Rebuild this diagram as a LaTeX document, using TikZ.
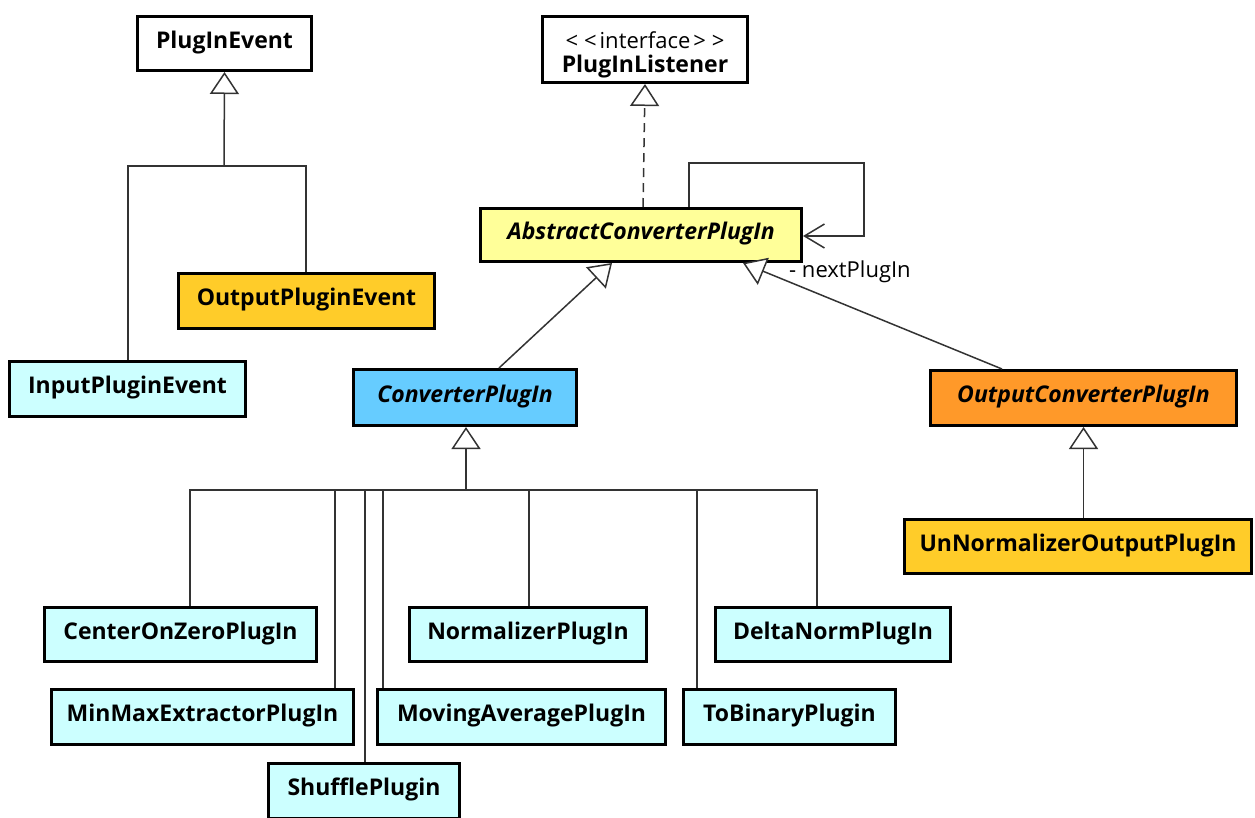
\documentclass[tikz,border=0pt]{standalone}
\usepackage{fontspec}
\setmainfont{Open Sans}
\usetikzlibrary{arrows.meta}
\definecolor{cyanbox}{RGB}{204,255,255}
\definecolor{goldbox}{RGB}{255,204,41}
\definecolor{bluebox}{RGB}{102,204,255}
\definecolor{yelbox}{RGB}{255,255,153}
\definecolor{orbox}{RGB}{255,153,41}
\definecolor{linec}{RGB}{51,51,51}
\begin{document}
\begin{tikzpicture}[x=1pt,y=-1pt,
  cls/.style={draw=black, line width=3pt, inner sep=0pt, text height=16pt, text depth=7pt,
    font=\fontsize{23}{25}\selectfont\bfseries},
  abscls/.style={cls, font=\fontsize{23}{25}\selectfont\bfseries\itshape},
  conn/.style={draw=linec, line width=1.5pt},
  gentip/.style={-{Triangle[open, length=22pt, width=29pt, fill=white]}},
  gen/.style={conn, gentip},
  lbl/.style={inner sep=0pt, font=\fontsize{22}{25}\selectfont}]
\useasboundingbox (0,0) rectangle (1255,817);
\fill[white] (0,0) rectangle (1255,817);
\clip (0,0) rectangle (1255,817);

% event hierarchy
\node[cls, fill=white, minimum width=174pt, minimum height=54pt] (ev) at (224.5,43.5) {PlugInEvent};
\node[cls, fill=goldbox, minimum width=256pt, minimum height=55pt] (oev) at (306.5,301) {OutputPluginEvent};
\node[cls, fill=cyanbox, minimum width=236pt, minimum height=55pt] (iev) at (127.5,389) {InputPluginEvent};
\coordinate (evhub) at (224,166);
\draw[gen] (evhub) -- (ev.south);
\draw[conn] (iev.north -| 128,0) |- (evhub);
\draw[conn] (oev.north -| 306,0) |- (evhub);

% listener and abstract converter
\node[cls, fill=white, minimum width=205pt, minimum height=66pt, align=center, text height=50pt, text depth=5pt] (lis) at (645,49.5)
  {{\fontsize{22}{25}\selectfont\mdseries <\hspace{6pt}<\hspace{3pt}interface\hspace{3pt}>\hspace{6pt}>}\\[-1pt]PlugInListener};
\node[abscls, fill=yelbox, minimum width=321pt, minimum height=53pt] (acp) at (641,235) {AbstractConverterPlugIn};
\draw[conn, dash pattern=on 9pt off 6pt, gentip] (acp.north -| 643,0) -- (lis.south);
\draw[conn, -{Straight Barb[length=20pt, width=24pt]}] (acp.north -| 689,0) |- (864,163) |- (acp.east |- 0,236);
\node[lbl, anchor=west] (nextlbl) at (789,272) {- nextPlugIn};

% converter branches
\node[abscls, fill=bluebox, minimum width=223pt, minimum height=56pt] (cp) at (465,397.5) {ConverterPlugIn};
\node[abscls, fill=orbox, minimum width=306pt, minimum height=55pt] (ocp) at (1083.5,398) {OutputConverterPlugIn};
\node[cls, fill=goldbox, minimum width=347pt, minimum height=54pt] (unp) at (1078,546.5) {UnNormalizerOutputPlugIn};
\draw[gen] (cp.north -| 499,0) -- (acp.south -| 612,0);
\draw[gen] (ocp.north -| 1002,0) -- (acp.south -| 743,0);
\draw[gen] (unp.north -| ocp.south) -- (ocp.south);

% concrete converters
\node[cls, fill=cyanbox, minimum width=272pt, minimum height=54pt] (coz) at (180.5,634.5) {CenterOnZeroPlugIn};
\node[cls, fill=cyanbox, minimum width=237pt, minimum height=54pt] (nor) at (528,634.5) {NormalizerPlugIn};
\node[cls, fill=cyanbox, minimum width=235pt, minimum height=54pt] (dnp) at (833,634.5) {DeltaNormPlugIn};
\node[cls, fill=cyanbox, minimum width=302pt, minimum height=55pt] (mmx) at (202.5,717) {MinMaxExtractorPlugIn};
\node[cls, fill=cyanbox, minimum width=288pt, minimum height=55pt] (mav) at (521.5,717) {MovingAveragePlugIn};
\node[cls, fill=cyanbox, minimum width=212pt, minimum height=55pt] (tbp) at (789.5,717) {ToBinaryPlugin};
\node[cls, fill=cyanbox, minimum width=191pt, minimum height=55pt] (shp) at (364,791) {ShufflePlugin};
\coordinate (cphub) at (466,490);
\draw[gen] (cphub) -- (cp.south -| cphub);
\draw[conn] (coz.north -| 190,0) |- (cphub);
\draw[conn] (mmx.north -| 335,0) |- (cphub);
\draw[conn] (shp.north -| 365,0) |- (cphub);
\draw[conn] (mav.north -| 383,0) |- (cphub);
\draw[conn] (nor.north -| 529,0) |- (cphub);
\draw[conn] (tbp.north -| 697,0) |- (cphub);
\draw[conn] (dnp.north -| 817,0) |- (cphub);
\end{tikzpicture}
\end{document}
